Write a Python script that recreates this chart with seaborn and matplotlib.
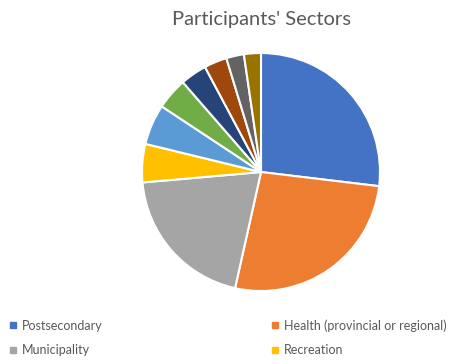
import matplotlib.pyplot as plt
import seaborn as sns
from matplotlib.lines import Line2D

# Sector shares (%), clockwise from 12 o'clock
sectors = ['Postsecondary', 'Health (provincial or regional)', 'Municipality', 'Recreation',
           'Sector 5', 'Sector 6', 'Sector 7', 'Sector 8', 'Sector 9', 'Sector 10']
shares = [26.9, 26.6, 20.1, 5.2, 5.5, 4.3, 3.6, 3.1, 2.4, 2.3]
colors = ['#4472C4', '#ED7D31', '#A5A5A5', '#FFC000', '#5B9BD5',
          '#70AD47', '#264478', '#9E480E', '#636363', '#997300']
legend_shown = 4  # the rest of the legend is cut off in the reference

sns.set_theme(style='white')
plt.rcParams['font.family'] = ['Lato', 'DejaVu Sans']

fig = plt.figure(figsize=(4.54, 3.64), dpi=100)
ax = fig.add_axes([0.3128, 0.2005, 0.5242, 0.6538])
ax.pie(shares, colors=colors, startangle=90, counterclock=False,
       wedgeprops=dict(edgecolor='white', linewidth=1.5))
ax.set_xlim(-1, 1)
ax.set_ylim(-1, 1)
ax.set_aspect('equal')

fig.text(0.577, 0.947, "Participants' Sectors", ha='center', va='center',
         fontsize=14.5, color='#595959')

handles = [Line2D([], [], marker='s', linestyle='none', markersize=4,
                  markerfacecolor=c, markeredgecolor=c) for c in colors[:legend_shown]]
order = [0, 2, 1, 3]
leg = fig.legend([handles[i] for i in order], [sectors[i] for i in order],
                 ncol=2, loc='upper left', bbox_to_anchor=(0.01, 0.137),
                 frameon=False, fontsize=9, handlelength=0.6, handletextpad=0.4,
                 columnspacing=13.5, labelspacing=1.0, borderaxespad=0)
for t in leg.get_texts():
    t.set_color('#595959')

fig.savefig('out.png', dpi=100)
